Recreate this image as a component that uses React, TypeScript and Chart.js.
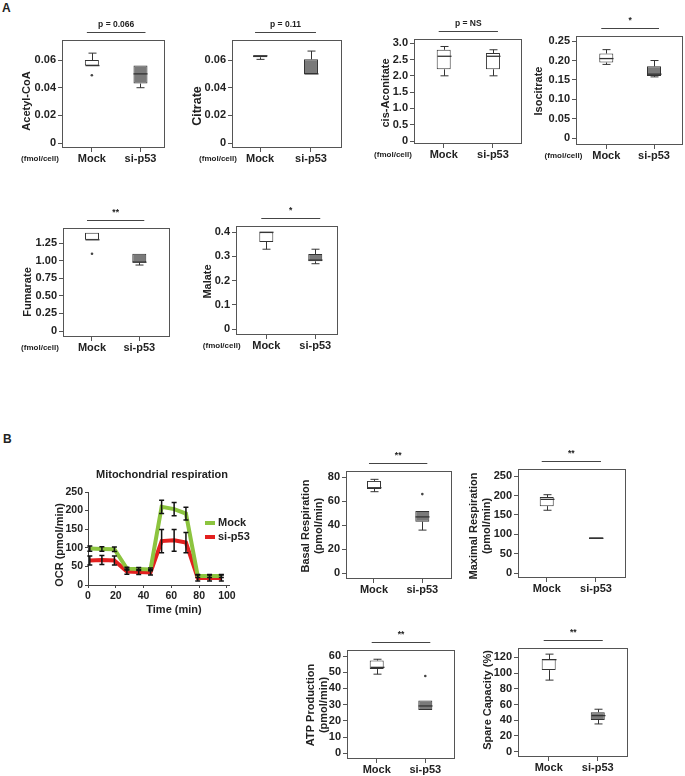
import React, { useEffect, useRef } from 'react';
import { Chart, registerables } from 'chart.js';

Chart.register(...registerables);

const FONT = '"Liberation Sans", Arial, Helvetica, sans-serif';
const TEXT = '#222222';
const FRAME = '#555555';
const BOX_LINE = '#333333';
const GRAY_FILL = '#7a7a7a';
const WHITE = '#ffffff';

Chart.defaults.font.family = FONT;

const groups = ['Mock', 'si-p53'];

// Box statistics: [min, q1, median, q3, max]
const acetylMock = [0.056, 0.056, 0.056, 0.06, 0.065];
const acetylSi = [0.04, 0.043, 0.05, 0.056, 0.056];
const acetylOut = [[0.049], []];
const acetylTicks = [0, 0.02, 0.04, 0.06];
const acetylTickLabels = ['0', '0.02', '0.04', '0.06'];

const citrateMock = [0.0605, 0.062, 0.063, 0.0635, 0.0635];
const citrateSi = [0.05, 0.05, 0.05, 0.0605, 0.0665];
const citrateOut = [[], []];
const citrateTicks = [0, 0.02, 0.04, 0.06];
const citrateTickLabels = ['0', '0.02', '0.04', '0.06'];

const cisMock = [2.0, 2.2, 2.6, 2.8, 2.9];
const cisSi = [2.0, 2.2, 2.6, 2.7, 2.8];
const cisOut = [[], []];
const cisTicks = [0, 0.5, 1.0, 1.5, 2.0, 2.5, 3.0];
const cisTickLabels = ['0', '0.5', '1.0', '1.5', '2.0', '2.5', '3.0'];

const isoMock = [0.19, 0.195, 0.205, 0.218, 0.228];
const isoSi = [0.158, 0.16, 0.165, 0.185, 0.2];
const isoOut = [[], []];
const isoTicks = [0, 0.05, 0.1, 0.15, 0.2, 0.25];
const isoTickLabels = ['0', '0.05', '0.10', '0.15', '0.20', '0.25'];

const fumMock = [1.3, 1.3, 1.3, 1.4, 1.4];
const fumSi = [0.94, 0.98, 0.98, 1.1, 1.1];
const fumOut = [[1.1], []];
const fumTicks = [0, 0.25, 0.5, 0.75, 1.0, 1.25];
const fumTickLabels = ['0', '0.25', '0.50', '0.75', '1.00', '1.25'];

const malMock = [0.33, 0.36, 0.4, 0.4, 0.4];
const malSi = [0.27, 0.28, 0.285, 0.31, 0.33];
const malOut = [[], []];
const malTicks = [0, 0.1, 0.2, 0.3, 0.4];
const malTickLabels = ['0', '0.1', '0.2', '0.3', '0.4'];

const basalMock = [68, 70.3, 71.3, 77, 78.3];
const basalSi = [36, 43, 47, 52, 52];
const basalOut = [[], [66]];
const basalTicks = [0, 20, 40, 60, 80];
const basalTickLabels = ['0', '20', '40', '60', '80'];

const maxMock = [162, 172.6, 190, 196, 202];
const maxSi = [87, 88, 90, 93, 94];
const maxOut = [[], []];
const maxTicks = [0, 50, 100, 150, 200, 250];
const maxTickLabels = ['0', '50', '100', '150', '200', '250'];

const atpMock = [48.8, 52, 53, 57.2, 58];
const atpSi = [26.5, 26.7, 29.2, 32.5, 32.5];
const atpOut = [[], [47.7]];
const atpTicks = [0, 10, 20, 30, 40, 50, 60];
const atpTickLabels = ['0', '10', '20', '30', '40', '50', '60'];

const spareMock = [91, 103.7, 117, 117.7, 124];
const spareSi = [35.3, 40.4, 45.9, 50.2, 54];
const spareOut = [[], []];
const spareTicks = [0, 20, 40, 60, 80, 100, 120];
const spareTickLabels = ['0', '20', '40', '60', '80', '100', '120'];

// OCR time course
const ocrTime = [1.3, 10, 19, 28, 36.5, 45, 53, 62, 70.5, 79, 87.5, 96];
const ocrMock = [98, 97, 96, 44, 43, 42, 210, 204, 192, 24, 24, 24];
const ocrMockErr = [7, 6, 6, 4, 4, 4, 18, 18, 17, 4, 4, 4];
const ocrSi = [66, 67, 66, 36, 35, 34, 118, 120, 114, 19, 19, 19];
const ocrSiErr = [12, 12, 12, 7, 7, 7, 31, 29, 27, 8, 8, 8];
const ocrXTicks = [0, 20, 40, 60, 80, 100];
const ocrYTicks = [0, 50, 100, 150, 200, 250];
const seriesNames = ['Mock', 'si-p53'];
const seriesColors = ['#8cc43f', '#e3201f'];

type Panel = {
  key: string;
  title: string[];
  titleX: number[];
  titleY: number;
  titleSize: number;
  unit?: string;
  unitDx?: number;
  sig: string;
  stats: number[][];
  out: number[][];
  fills: string[];
  ticks: number[];
  tickLabels: string[];
  yMin: number;
  yMax: number;
  rect: number[];
  frac: number[];
};

const panels: Panel[] = [
  { key: 'acetyl', title: ['Acetyl-CoA'], titleX: [27], titleY: 101, titleSize: 11, unit: '(fmol/cell)', unitDx: -22, sig: 'p = 0.066',
    stats: [acetylMock, acetylSi], out: acetylOut, fills: [WHITE, GRAY_FILL], ticks: acetylTicks, tickLabels: acetylTickLabels,
    yMin: -0.0036, yMax: 0.0745, rect: [62, 40, 167, 148], frac: [0.29, 0.762] },
  { key: 'citrate', title: ['Citrate'], titleX: [198], titleY: 106, titleSize: 12.5, unit: '(fmol/cell)', unitDx: -14, sig: 'p = 0.11',
    stats: [citrateMock, citrateSi], out: citrateOut, fills: [WHITE, GRAY_FILL], ticks: citrateTicks, tickLabels: citrateTickLabels,
    yMin: -0.0036, yMax: 0.0745, rect: [232, 40, 342, 148], frac: [0.255, 0.718] },
  { key: 'cis', title: ['cis-Aconitate'], titleX: [386], titleY: 93, titleSize: 11, unit: '(fmol/cell)', unitDx: -21, sig: 'p = NS',
    stats: [cisMock, cisSi], out: cisOut, fills: [WHITE, WHITE], ticks: cisTicks, tickLabels: cisTickLabels,
    yMin: -0.092, yMax: 3.13, rect: [414, 39, 522, 144], frac: [0.275, 0.731] },
  { key: 'iso', title: ['Isocitrate'], titleX: [539], titleY: 91, titleSize: 11, unit: '(fmol/cell)', unitDx: -12.5, sig: '*',
    stats: [isoMock, isoSi], out: isoOut, fills: [WHITE, GRAY_FILL], ticks: isoTicks, tickLabels: isoTickLabels,
    yMin: -0.017, yMax: 0.263, rect: [576, 36, 683, 145], frac: [0.283, 0.729] },
  { key: 'fum', title: ['Fumarate'], titleX: [28], titleY: 292, titleSize: 11, unit: '(fmol/cell)', unitDx: -23, sig: '**',
    stats: [fumMock, fumSi], out: fumOut, fills: [WHITE, GRAY_FILL], ticks: fumTicks, tickLabels: fumTickLabels,
    yMin: -0.0855, yMax: 1.468, rect: [63, 228, 172, 337], frac: [0.271, 0.713] },
  { key: 'mal', title: ['Malate'], titleX: [208], titleY: 281.5, titleSize: 11, unit: '(fmol/cell)', unitDx: -14.3, sig: '*',
    stats: [malMock, malSi], out: malOut, fills: [WHITE, GRAY_FILL], ticks: malTicks, tickLabels: malTickLabels,
    yMin: -0.0248, yMax: 0.426, rect: [236, 226, 338, 335], frac: [0.297, 0.777] },
  { key: 'basal', title: ['Basal Respiration', '(pmol/min)'], titleX: [306, 319], titleY: 526, titleSize: 11, sig: '**',
    stats: [basalMock, basalSi], out: basalOut, fills: [WHITE, GRAY_FILL], ticks: basalTicks, tickLabels: basalTickLabels,
    yMin: -4.75, yMax: 85.25, rect: [346, 471, 454, 579], frac: [0.264, 0.72] },
  { key: 'max', title: ['Maximal Respiration', '(pmol/min)'], titleX: [474, 487], titleY: 526, titleSize: 11, sig: '**',
    stats: [maxMock, maxSi], out: maxOut, fills: [WHITE, GRAY_FILL], ticks: maxTicks, tickLabels: maxTickLabels,
    yMin: -12, yMax: 268, rect: [518, 469, 626, 578], frac: [0.266, 0.722] },
  { key: 'atp', title: ['ATP Production', '(pmol/min)'], titleX: [311, 324], titleY: 705, titleSize: 11, sig: '**',
    stats: [atpMock, atpSi], out: atpOut, fills: [WHITE, GRAY_FILL], ticks: atpTicks, tickLabels: atpTickLabels,
    yMin: -3.5, yMax: 63.7, rect: [347, 650, 457, 759], frac: [0.275, 0.725] },
  { key: 'spare', title: ['Spare Capacity (%)'], titleX: [488], titleY: 700, titleSize: 11, sig: '**',
    stats: [spareMock, spareSi], out: spareOut, fills: [WHITE, GRAY_FILL], ticks: spareTicks, tickLabels: spareTickLabels,
    yMin: -6.7, yMax: 131.8, rect: [518, 648, 628, 757], frac: [0.279, 0.725] },
];

const PAD_L = 62;
const PAD_T = 30;
const PAD_R = 2;
const PAD_B = 26;
const BOX_W = 14;

function BoxChart({ p }: { p: Panel }) {
  const ref = useRef<HTMLCanvasElement>(null);
  const [x0, y0, x1, y1] = p.rect;
  const w = x1 - x0;
  const h = y1 - y0;
  const cw = w + PAD_L + PAD_R;
  const ch = h + PAD_T + PAD_B;
  const cLeft = x0 - PAD_L;
  const cTop = y0 - PAD_T;

  useEffect(() => {
    if (!ref.current) return;
    const span = 1 / (p.frac[1] - p.frac[0]);
    const xMin = 1 - p.frac[0] * span;
    const xMax = xMin + span;

    const extras = {
      id: 'boxExtras' + p.key,
      afterDatasetsDraw(chart: any) {
        const { ctx, chartArea: a, scales } = chart;
        const xs = scales.x;
        const ys = scales.y;
        ctx.save();
        ctx.strokeStyle = BOX_LINE;
        ctx.lineWidth = 1;
        p.stats.forEach((s, i) => {
          const cx = Math.round(xs.getPixelForValue(i + 1)) + 0.5;
          const [mn, q1, med, q3, mx] = s.map((v) => ys.getPixelForValue(v));
          ctx.beginPath();
          if (Math.abs(mx - q3) > 0.5) {
            ctx.moveTo(cx, q3);
            ctx.lineTo(cx, mx);
            ctx.moveTo(cx - 4, mx);
            ctx.lineTo(cx + 4, mx);
          }
          if (Math.abs(mn - q1) > 0.5) {
            ctx.moveTo(cx, q1);
            ctx.lineTo(cx, mn);
            ctx.moveTo(cx - 4, mn);
            ctx.lineTo(cx + 4, mn);
          }
          ctx.stroke();
          ctx.beginPath();
          ctx.lineWidth = 1.3;
          ctx.moveTo(cx - BOX_W / 2, med);
          ctx.lineTo(cx + BOX_W / 2, med);
          ctx.stroke();
          ctx.lineWidth = 1;
        });
        // frame
        ctx.strokeStyle = FRAME;
        ctx.lineWidth = 1;
        ctx.strokeRect(a.left + 0.5, a.top + 0.5, a.right - a.left - 1, a.bottom - a.top - 1);
        // significance bar
        const m = xs.getPixelForValue(1);
        const s2 = xs.getPixelForValue(2);
        ctx.beginPath();
        ctx.strokeStyle = '#444444';
        ctx.moveTo(m - 5, a.top - 7.5);
        ctx.lineTo(s2 + 5, a.top - 7.5);
        ctx.stroke();
        ctx.fillStyle = TEXT;
        ctx.font = `bold 8.5px ${FONT}`;
        ctx.textAlign = 'center';
        ctx.textBaseline = 'middle';
        ctx.fillText(p.sig, (m + s2) / 2, a.top - 15);
        // unit note
        if (p.unit) {
          ctx.font = `bold 8px ${FONT}`;
          ctx.fillText(p.unit, a.left + (p.unitDx || 0), a.bottom + 11);
        }
        // y titles
        ctx.font = `bold ${p.titleSize}px ${FONT}`;
        p.title.forEach((t, i) => {
          ctx.save();
          ctx.translate(p.titleX[i] - cLeft, p.titleY - cTop);
          ctx.rotate(-Math.PI / 2);
          ctx.fillText(t, 0, 0);
          ctx.restore();
        });
        ctx.restore();
      },
    };

    const chart = new Chart(ref.current, {
      type: 'bar',
      data: {
        datasets: [
          {
            type: 'bar',
            data: p.stats.map((s, i) => ({ x: i + 1, y: [s[1], s[3]] })) as any,
            backgroundColor: p.fills,
            borderColor: BOX_LINE,
            borderWidth: 1,
            borderSkipped: false,
            barThickness: BOX_W,
            inflateAmount: 0,
          } as any,
          {
            type: 'scatter',
            data: p.out.flatMap((arr, i) => arr.map((v) => ({ x: i + 1, y: v }))),
            pointRadius: 1.3,
            pointBackgroundColor: '#444444',
            pointBorderWidth: 0,
          } as any,
        ],
      },
      plugins: [extras],
      options: {
        animation: false,
        responsive: false,
        events: [],
        layout: { padding: { left: 0, right: PAD_R, top: PAD_T, bottom: 0 } },
        plugins: { legend: { display: false }, tooltip: { enabled: false }, title: { display: false } },
        scales: {
          x: {
            type: 'linear',
            min: xMin,
            max: xMax,
            offset: false,
            afterBuildTicks: (s: any) => {
              s.ticks = [{ value: 1 }, { value: 2 }];
            },
            afterFit: (s: any) => {
              s.height = PAD_B;
            },
            ticks: {
              callback: (_v: any, i: number) => groups[i],
              font: { size: 11, weight: 'bold' },
              color: TEXT,
              padding: 0,
              maxRotation: 0,
              autoSkip: false,
            },
            grid: { display: true, drawOnChartArea: false, drawTicks: true, tickLength: 4, color: FRAME, offset: false },
            border: { display: false },
          } as any,
          y: {
            type: 'linear',
            min: p.yMin,
            max: p.yMax,
            afterBuildTicks: (s: any) => {
              s.ticks = p.ticks.map((v) => ({ value: v }));
            },
            afterFit: (s: any) => {
              s.width = PAD_L;
            },
            ticks: {
              callback: (_v: any, i: number) => p.tickLabels[i],
              font: { size: 11, weight: 'bold' },
              color: TEXT,
              padding: 2,
              autoSkip: false,
            },
            grid: { display: true, drawOnChartArea: false, drawTicks: true, tickLength: 4, color: FRAME },
            border: { display: false },
          } as any,
        },
      },
    });
    return () => chart.destroy();
  }, []);

  return (
    <canvas
      ref={ref}
      width={cw}
      height={ch}
      style={{ position: 'absolute', left: cLeft, top: cTop, width: cw, height: ch }}
    />
  );
}

const L_LEFT = 20;
const L_TOP = 462;
const L_W = 260;
const L_H = 160;

function OcrChart() {
  const ref = useRef<HTMLCanvasElement>(null);
  useEffect(() => {
    if (!ref.current) return;
    const errs = [ocrMockErr, ocrSiErr];
    const extras = {
      id: 'ocrExtras',
      afterDatasetsDraw(chart: any) {
        const { ctx, scales } = chart;
        const xs = scales.x;
        const ys = scales.y;
        ctx.save();
        ctx.strokeStyle = '#111111';
        ctx.lineWidth = 1.5;
        [ocrMock, ocrSi].forEach((vals, di) => {
          vals.forEach((v, i) => {
            const x = xs.getPixelForValue(ocrTime[i]);
            const yt = ys.getPixelForValue(v + errs[di][i]);
            const yb = ys.getPixelForValue(v - errs[di][i]);
            ctx.beginPath();
            ctx.moveTo(x, yt);
            ctx.lineTo(x, yb);
            ctx.moveTo(x - 2.5, yt);
            ctx.lineTo(x + 2.5, yt);
            ctx.moveTo(x - 2.5, yb);
            ctx.lineTo(x + 2.5, yb);
            ctx.stroke();
          });
        });
        // legend
        ctx.fillStyle = TEXT;
        ctx.font = `bold 11px ${FONT}`;
        ctx.textAlign = 'left';
        ctx.textBaseline = 'middle';
        seriesNames.forEach((n, i) => {
          const y = 61 + i * 14;
          ctx.strokeStyle = seriesColors[i];
          ctx.lineWidth = 4;
          ctx.beginPath();
          ctx.moveTo(185, y);
          ctx.lineTo(195, y);
          ctx.stroke();
          ctx.fillText(n, 198, y);
        });
        // titles
        ctx.textAlign = 'center';
        ctx.fillText('Mitochondrial respiration', 142, 13);
        ctx.fillText('Time (min)', 154, 148);
        ctx.save();
        ctx.translate(40, 83);
        ctx.rotate(-Math.PI / 2);
        ctx.fillText('OCR (pmol/min)', 0, 0);
        ctx.restore();
        ctx.restore();
      },
    };
    const chart = new Chart(ref.current, {
      type: 'line',
      data: {
        datasets: [
          {
            label: seriesNames[0],
            data: ocrTime.map((t, i) => ({ x: t, y: ocrMock[i] })),
            borderColor: seriesColors[0],
            backgroundColor: seriesColors[0],
            borderWidth: 4,
            pointRadius: 0,
            tension: 0,
            borderJoinStyle: 'miter',
          } as any,
          {
            label: seriesNames[1],
            data: ocrTime.map((t, i) => ({ x: t, y: ocrSi[i] })),
            borderColor: seriesColors[1],
            backgroundColor: seriesColors[1],
            borderWidth: 4,
            pointRadius: 0,
            tension: 0,
            borderJoinStyle: 'miter',
          } as any,
        ],
      },
      plugins: [extras],
      options: {
        animation: false,
        responsive: false,
        events: [],
        clip: false as any,
        layout: { padding: { left: 0, right: 51, top: 30, bottom: 0 } },
        plugins: { legend: { display: false }, tooltip: { enabled: false } },
        scales: {
          x: {
            type: 'linear',
            min: 0,
            max: 101.5,
            afterBuildTicks: (s: any) => {
              s.ticks = ocrXTicks.map((v) => ({ value: v }));
            },
            afterFit: (s: any) => {
              s.height = 37;
            },
            ticks: { font: { size: 10.5, weight: 'bold' }, color: TEXT, padding: 2, maxRotation: 0, autoSkip: false },
            grid: { display: true, drawOnChartArea: false, drawTicks: true, tickLength: 3, color: '#444444' },
            border: { display: true, color: '#444444', width: 1 },
          } as any,
          y: {
            type: 'linear',
            min: 0,
            max: 250,
            afterBuildTicks: (s: any) => {
              s.ticks = ocrYTicks.map((v) => ({ value: v }));
            },
            afterFit: (s: any) => {
              s.width = 68;
            },
            ticks: { font: { size: 10.5, weight: 'bold' }, color: TEXT, padding: 2, autoSkip: false },
            grid: { display: true, drawOnChartArea: false, drawTicks: true, tickLength: 3, color: '#444444' },
            border: { display: true, color: '#444444', width: 1 },
          } as any,
        },
      },
    });
    return () => chart.destroy();
  }, []);
  return (
    <canvas
      ref={ref}
      width={L_W}
      height={L_H}
      style={{ position: 'absolute', left: L_LEFT, top: L_TOP, width: L_W, height: L_H }}
    />
  );
}

export default function App() {
  return (
    <div
      style={{
        position: 'absolute',
        left: 0,
        top: 0,
        width: 685,
        height: 776,
        overflow: 'hidden',
        background: '#ffffff',
        fontFamily: FONT,
      }}
    >
      <div style={{ position: 'absolute', left: 2, top: 1, fontSize: 12, fontWeight: 'bold', color: TEXT, lineHeight: '14px' }}>A</div>
      <div style={{ position: 'absolute', left: 3, top: 432, fontSize: 12, fontWeight: 'bold', color: TEXT, lineHeight: '14px' }}>B</div>
      {panels.map((p) => (
        <BoxChart key={p.key} p={p} />
      ))}
      <OcrChart />
    </div>
  );
}
